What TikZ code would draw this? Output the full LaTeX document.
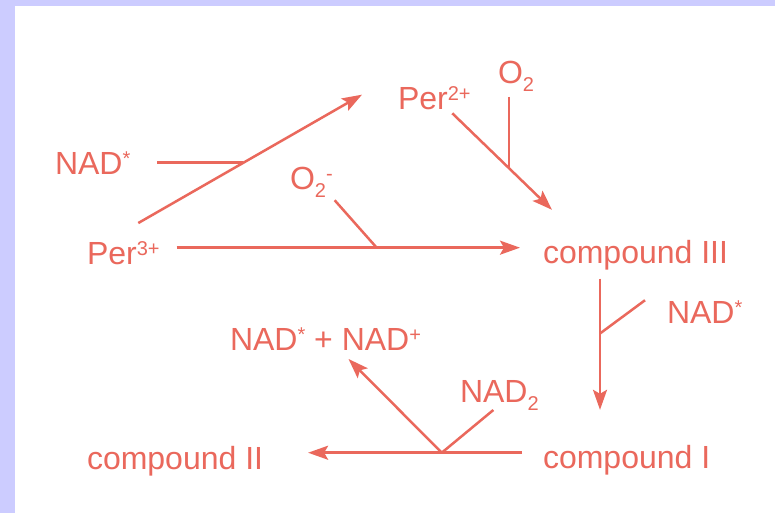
\documentclass[tikz,border=0pt]{standalone}
\usepackage{fontspec}
\setmainfont{Liberation Sans}
\usepackage{tikz}
\usetikzlibrary{arrows.meta, calc}
\definecolor{salmon}{RGB}{234,104,92}
\definecolor{framebg}{RGB}{204,204,255}
\newcommand{\up}[1]{\raisebox{4.5pt}{\fontsize{10}{12}\selectfont #1}}
\newcommand{\dn}[1]{\raisebox{-4pt}{\fontsize{10}{12}\selectfont #1}}

\begin{document}
\begin{tikzpicture}[x=0.5pt, y=-0.5pt,
  every node/.style={font=\fontsize{16}{19}\selectfont, text=salmon, inner sep=0pt, outer sep=0pt, anchor=base west},
  rxn/.style={draw=salmon, line width=1.25pt},
  arr/.style={rxn, -{Stealth[length=10pt, width=7pt, inset=2pt]}}]
  \fill[framebg] (0,0) rectangle (775,513);
  \fill[white] (15,6) rectangle (775,513);
  \node (nadL) at (55,175) {NAD\up{*}};
  \node (per3) at (87,264) {Per\up{3+}};
  \node (per2) at (398,110) {Per\up{2+}};
  \node (o2t) at (498,84) {O\dn{2}};
  \node (o2m) at (290,190) {O\dn{2}\up{-}};
  \node (c3) at (543,263) {compound III};
  \node (nadR) at (667,323) {NAD\up{*}};
  \node (nadout) at (230,350) {NAD\up{*} + NAD\up{+}};
  \node (nad2) at (460,402) {NAD\dn{2}};
  \node (c2) at (87,469) {compound II};
  \node (c1) at (543,468) {compound I};
  \coordinate (a0) at ([shift={(15,-18)}]per3.north);
  \coordinate (a1) at ([shift={(-36,-4)}]per2.west);
  \draw[arr] (a0) -- (a1);
  \coordinate (j1) at ($(a0)!0.47!(a1)$);
  \draw[rxn, shorten <=13.5pt] (j1 -| nadL.east) -- (j1);
  \coordinate (b0) at ([shift={(17,-5)}]per3.east);
  \draw[arr, shorten >=11.5pt] (b0) -- (b0 -| c3.west);
  \coordinate (j2) at ($(b0)!0.546!(b0 -| c3.west)$);
  \draw[rxn, shorten <=1.5pt] (o2m.south east) -- (j2);
  \coordinate (d0) at ([shift={(18,3)}]per2.south);
  \coordinate (d1) at ([shift={(9,-30)}]c3.north west);
  \draw[arr] (d0) -- (d1);
  \coordinate (j3) at ($(d0)!0.57!(d1)$);
  \draw[rxn, shorten <=2.5pt] (j3 |- o2t.south) -- (j3);
  \coordinate (e0) at ([shift={(57,9)}]c3.south west);
  \draw[arr, shorten >=17.5pt] (e0) -- (e0 |- c1.north);
  \coordinate (j4) at ($(e0)!0.33!(e0 |- c1.north)$);
  \draw[rxn] ([xshift=-11pt]nadR.north west) -- (j4);
  \coordinate (f0) at ([shift={(-21,-7)}]c1.west);
  \draw[arr, shorten >=22.5pt] (f0) -- (f0 -| c2.east);
  \coordinate (j5) at ($(f0)!0.31!(f0 -| c2.east)$);
  \draw[rxn] ([xshift=-3pt]nad2.south) -- (j5);
  \draw[arr] (j5) -- ([shift={(23,9)}]nadout.south);
\end{tikzpicture}
\end{document}
